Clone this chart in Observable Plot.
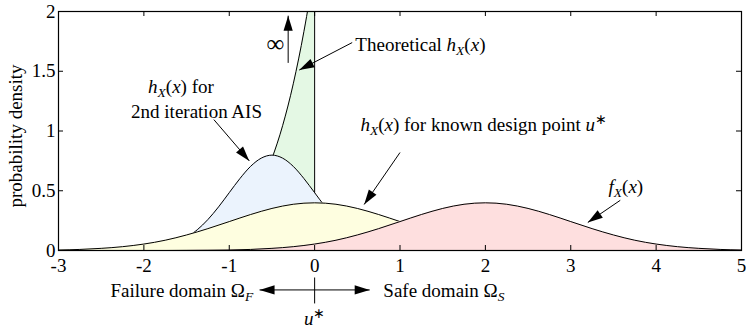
<!DOCTYPE html>
<html>
<head>
<meta charset="utf-8">
<script src="https://cdn.jsdelivr.net/npm/d3@7"></script>
<script src="https://cdn.jsdelivr.net/npm/@observablehq/plot@0.6"></script>
<style>
  html, body { margin: 0; padding: 0; background: #fff; }
  #chart svg { display: block; }
</style>
</head>
<body>
<div id="chart"></div>
<script>
// Axis ticks
const xTicks = [-3, -2, -1, 0, 1, 2, 3, 4, 5];
const yTicks = [0, 0.5, 1, 1.5, 2];

// Common abscissa for f_X(x) and the design-point density
const xGrid = [-3, -2.75, -2.5, -2.25, -2, -1.75, -1.5, -1.25, -1, -0.75, -0.5, -0.25, 0,
  0.25, 0.5, 0.75, 1, 1.25, 1.5, 1.75, 2, 2.25, 2.5, 2.75, 3, 3.25, 3.5, 3.75, 4, 4.25, 4.5, 4.75, 5];
// f_X(x): original density, centred at 2
const fX = [0, 0, 0, 0, 0, 0, 0.001, 0.002, 0.004, 0.009, 0.018, 0.032, 0.054,
  0.086, 0.130, 0.183, 0.242, 0.301, 0.352, 0.387, 0.399, 0.387, 0.352, 0.301, 0.242,
  0.183, 0.130, 0.086, 0.054, 0.032, 0.018, 0.009, 0.004];
// h_X(x) for the known design point u* = 0
const hDesign = [0.004, 0.009, 0.018, 0.032, 0.054, 0.086, 0.130, 0.183, 0.242, 0.301, 0.352, 0.387, 0.399,
  0.387, 0.352, 0.301, 0.242, 0.183, 0.130, 0.086, 0.054, 0.032, 0.018, 0.009, 0.004,
  0.002, 0.001, 0, 0, 0, 0, 0, 0];

// h_X(x) after the 2nd AIS iteration
const xAIS = [-2.5, -2.375, -2.25, -2.125, -2, -1.875, -1.75, -1.625, -1.5, -1.375, -1.25, -1.125, -1,
  -0.875, -0.75, -0.625, -0.5, -0.375, -0.25, -0.125, 0, 0.125, 0.25, 0.375, 0.5,
  0.625, 0.75, 0.875, 1, 1.125, 1.25, 1.375, 1.5];
const hAIS = [0, 0.001, 0.002, 0.004, 0.009, 0.018, 0.035, 0.063, 0.108, 0.173, 0.259, 0.365, 0.484,
  0.602, 0.704, 0.773, 0.798, 0.773, 0.704, 0.602, 0.484, 0.365, 0.259, 0.173, 0.108,
  0.063, 0.035, 0.018, 0.009, 0.004, 0.002, 0.001, 0];

// Theoretical (optimal) h_X(x), restricted to the failure domain x <= 0
const xTheory = [-3, -2.5, -2, -1.75, -1.5, -1.25, -1, -0.875, -0.75, -0.625, -0.5, -0.375, -0.25, -0.125, -0.0625, 0];
const hTheory = [0, 0.001, 0.006, 0.016, 0.038, 0.089, 0.195, 0.281, 0.400, 0.559, 0.770, 1.044, 1.395, 1.834, 2.090, 2.373];

const pts = (xs, ys) => xs.map((x, i) => ({x, y: ys[i]}));
const theory = pts(xTheory, hTheory);
const ais = pts(xAIS, hAIS);
const design = pts(xGrid, hDesign);
const fdens = pts(xGrid, fX);

// Annotation texts; parts are [text, style] with style "" | "i" | "sub" | "sup" | "big"
const notesStart = [
  {x: 0.477, y: 1.717, parts: [["Theoretical ", ""], ["h", "i"], ["X", "sub"], ["(", ""], ["x", "i"], [")", ""]]},
  {x: -1.951, y: 1.37, parts: [["h", "i"], ["X", "sub"], ["(", ""], ["x", "i"], [") for", ""]]},
  {x: -2.150, y: 1.162, parts: [["2nd iteration AIS", ""]]},
  {x: 0.536, y: 1.048, parts: [["h", "i"], ["X", "sub"], ["(", ""], ["x", "i"], [") for known design point ", ""], ["u", "i"], ["\u2217", "sup"]]},
  {x: 3.443, y: 0.530, parts: [["f", "i"], ["X", "sub"], ["(", ""], ["x", "i"], [")", ""]]},
  {x: 0.805, y: -0.339, parts: [["Safe domain \u03A9", ""], ["S", "sub"]]}
];
const notesEnd = [
  {x: -0.719, y: -0.339, parts: [["Failure domain \u03A9", ""], ["F", "sub"]]}
];
const notesMiddle = [
  {x: -0.46, y: 1.714, parts: [["\u221E", "big"]]},
  {x: 0, y: -0.574, parts: [["u", "i"], ["\u2217", "sup"]]}
];

// Arrows with filled heads (from -> to) and a plain marker line
const pointers = [
  {x1: 0.44, y1: 1.74, x2: -0.18, y2: 1.51},
  {x1: -0.31, y1: 1.57, x2: -0.31, y2: 1.965},
  {x1: -1.18, y1: 1.095, x2: -0.765, y2: 0.75},
  {x1: 1.0, y1: 0.82, x2: 0.58, y2: 0.385},
  {x1: 3.58, y1: 0.42, x2: 3.2, y2: 0.235},
  {x1: 0, y1: -0.33, x2: -0.645, y2: -0.33},
  {x1: 0, y1: -0.33, x2: 0.645, y2: -0.33}
];
const markerLines = [{x1: 0, y1: -0.226, x2: 0, y2: -0.443}];

const W = 746, H = 331;
const mt = 11, mr = 5, mb = 81, ml = 58;
const frameW = W - ml - mr, frameH = H - mt - mb;
const tickLen = 5;
const FONT = "Liberation Serif";
const FONT_SIZE = 19;

const fills = {theory: "#e4f8e4", ais: "#ebf3fd", design: "#fefee0", f: "#fedfdf"};
const curve = "monotone-x";
const plain = d => d.parts.map(p => p[0]).join("");

const density = (data, fill) => [
  Plot.areaY(data, {x: "x", y: "y", fill, curve, clip: true}),
  Plot.lineY(data, {x: "x", y: "y", stroke: "black", strokeWidth: 1, curve, clip: true})
];

const textOpts = {fontFamily: FONT, fontSize: FONT_SIZE, fill: "black"};

const chart = Plot.plot({
  width: W, height: H,
  marginTop: mt, marginRight: mr, marginBottom: mb, marginLeft: ml,
  style: {background: "#fff", color: "black"},
  x: {domain: [-3, 5], axis: null},
  y: {domain: [0, 2], axis: null},
  marks: [
    ...density(theory, fills.theory),
    Plot.ruleX([theory[theory.length - 1]], {x: "x", y1: 0, y2: "y", stroke: "black", strokeWidth: 1, clip: true}),
    ...density(ais, fills.ais),
    ...density(design, fills.design),
    ...density(fdens, fills.f),
    // tick values; the tick marks themselves point inward on all four sides
    Plot.axisX(xTicks, {anchor: "bottom", tickSize: 0, tickPadding: 8, tickFormat: d => String(d), label: null, ...textOpts}),
    Plot.axisY(yTicks, {anchor: "left", tickSize: 0, tickPadding: 3, tickFormat: d => String(d), label: null, ...textOpts}),
    Plot.tickX(xTicks, {x: d => d, insetTop: frameH - tickLen, stroke: "black"}),
    Plot.tickX(xTicks, {x: d => d, insetBottom: frameH - tickLen, stroke: "black"}),
    Plot.tickY(yTicks, {y: d => d, insetRight: frameW - tickLen, stroke: "black"}),
    Plot.tickY(yTicks, {y: d => d, insetLeft: frameW - tickLen, stroke: "black"}),
    Plot.frame({stroke: "black", strokeWidth: 1.2}),
    Plot.text(["probability density"], {frameAnchor: "left", text: d => d, textAnchor: "middle", lineAnchor: "middle", rotate: -90, dx: -43, dy: 5, ...textOpts}),
    Plot.link(pointers, {x1: "x1", y1: "y1", x2: "x2", y2: "y2", stroke: "black", strokeWidth: 1, ariaDescription: "pointer"}),
    Plot.link(markerLines, {x1: "x1", y1: "y1", x2: "x2", y2: "y2", stroke: "black", strokeWidth: 1}),
    Plot.text(notesStart, {x: "x", y: "y", text: plain, textAnchor: "start", ariaDescription: "note-start", ...textOpts}),
    Plot.text(notesEnd, {x: "x", y: "y", text: plain, textAnchor: "end", ariaDescription: "note-end", ...textOpts}),
    Plot.text(notesMiddle, {x: "x", y: "y", text: plain, textAnchor: "middle", ariaDescription: "note-middle", ...textOpts})
  ]
});

const NS = "http://www.w3.org/2000/svg";

// Filled triangular arrowheads at the end of each pointer link
chart.querySelectorAll('g[aria-description="pointer"] path').forEach(path => {
  const n = (path.getAttribute("d").match(/-?\d*\.?\d+(?:e[-+]?\d+)?/gi) || []).map(Number);
  if (n.length < 4) return;
  const [x1, y1] = n.slice(0, 2), [x2, y2] = n.slice(-2);
  const len = Math.hypot(x2 - x1, y2 - y1) || 1;
  const ux = (x2 - x1) / len, uy = (y2 - y1) / len;
  const L = 15, hw = 4.6;
  const bx = x2 - ux * L, by = y2 - uy * L;
  const poly = document.createElementNS(NS, "polygon");
  poly.setAttribute("points", [
    [x2, y2], [bx - uy * hw, by + ux * hw], [bx + uy * hw, by - ux * hw]
  ].map(p => p.join(",")).join(" "));
  poly.setAttribute("fill", "black");
  poly.setAttribute("stroke", "none");
  path.parentNode.appendChild(poly);
});

// Math-style labels: italic symbols, subscripts and superscripts
function enrich(label, items) {
  chart.querySelectorAll(`g[aria-description="${label}"] text`).forEach((t, i) => {
    const parts = items[i].parts;
    t.textContent = "";
    let shift = 0;
    for (const [s, k] of parts) {
      const ts = document.createElementNS(NS, "tspan");
      ts.textContent = s;
      let target = 0;
      if (k === "i" || k === "sub") ts.setAttribute("font-style", "italic");
      if (k === "sub") { ts.setAttribute("font-size", 13.5); target = 4; }
      if (k === "sup") { ts.setAttribute("font-size", 13.5); target = -7; }
      if (k === "big") ts.setAttribute("font-size", 25);
      if (target !== shift) ts.setAttribute("dy", target - shift);
      shift = target;
      t.appendChild(ts);
    }
  });
}
enrich("note-start", notesStart);
enrich("note-end", notesEnd);
enrich("note-middle", notesMiddle);

document.getElementById("chart").appendChild(chart);
</script>
</body>
</html>
